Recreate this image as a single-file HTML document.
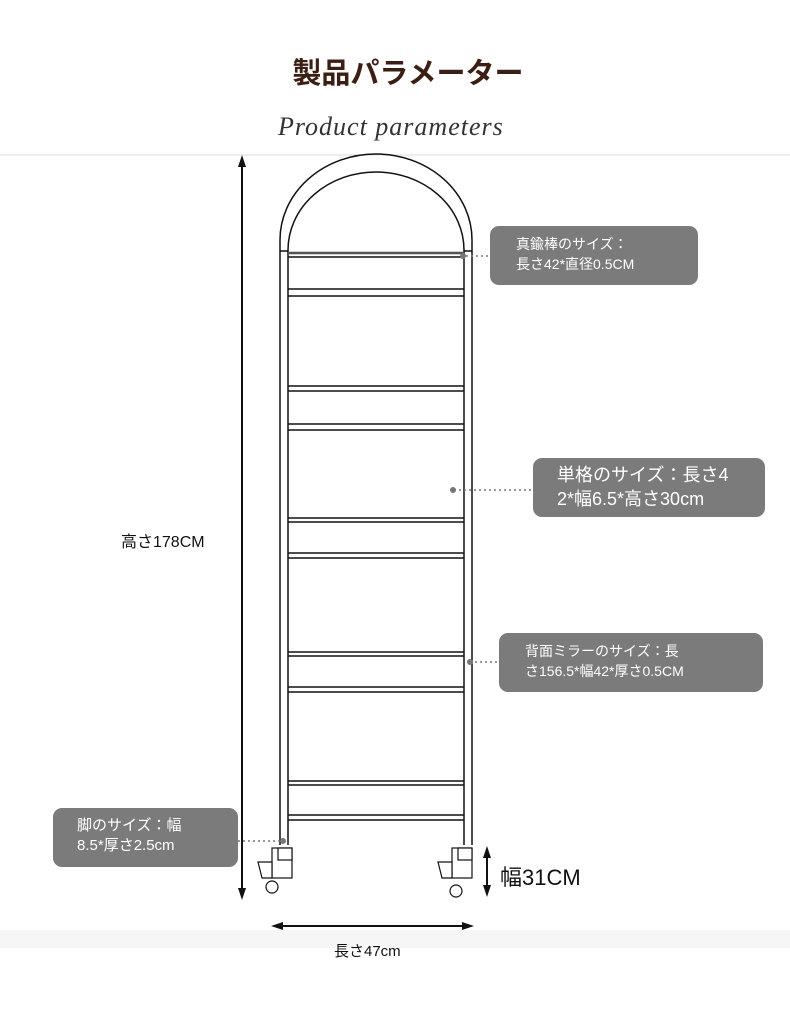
<!DOCTYPE html>
<html><head><meta charset="utf-8"><style>
html,body{margin:0;padding:0;background:#fff;}
body{width:790px;height:1028px;position:relative;overflow:hidden;font-family:"Liberation Sans","Noto Sans CJK JP",sans-serif;}
.t{position:absolute;white-space:nowrap;}
.box{position:absolute;background:#7b7b7b;border-radius:9px;color:#fff;font-size:14px;line-height:20px;padding:8px 0 0 26px;box-sizing:border-box;}
</style></head><body>
<div class="t" style="left:0;width:816px;top:50px;text-align:center;font-size:29px;font-weight:bold;color:#3b1f15;font-family:'Noto Sans CJK JP',sans-serif;">製品パラメーター</div>
<div class="t" style="left:278px;top:112px;font-family:'Liberation Serif',serif;font-style:italic;font-size:26px;color:#333;letter-spacing:1px;">Product parameters</div>
<div style="position:absolute;left:0;top:154px;width:790px;height:2px;background:#eee"></div>
<div style="position:absolute;left:0;top:930px;width:790px;height:18px;background:#f6f6f6"></div>
<svg width="790" height="1028" style="position:absolute;left:0;top:0" fill="none" stroke="#111" stroke-width="1.5">
<path d="M280,845 V240 A96,86 0 0 1 472,240 V845"/>
<path d="M288,845 V250 A88,78 0 0 1 464,250 V845"/>
<line x1="280" y1="251" x2="288" y2="251"/><line x1="464" y1="251" x2="472" y2="251"/>
<g>
<line x1="288" y1="253" x2="464" y2="253" stroke="#555" stroke-width="2.5"/><line x1="288" y1="257" x2="464" y2="257"/>
<line x1="288" y1="289" x2="464" y2="289"/><line x1="288" y1="296" x2="464" y2="296"/>
<line x1="288" y1="386" x2="464" y2="386"/><line x1="288" y1="391" x2="464" y2="391"/>
<line x1="288" y1="424" x2="464" y2="424"/><line x1="288" y1="430" x2="464" y2="430"/>
<line x1="288" y1="518" x2="464" y2="518"/><line x1="288" y1="522" x2="464" y2="522"/>
<line x1="288" y1="553" x2="464" y2="553"/><line x1="288" y1="558" x2="464" y2="558"/>
<line x1="288" y1="652" x2="464" y2="652"/><line x1="288" y1="656" x2="464" y2="656"/>
<line x1="288" y1="687" x2="464" y2="687"/><line x1="288" y1="692" x2="464" y2="692"/>
<line x1="288" y1="781" x2="464" y2="781"/><line x1="288" y1="785" x2="464" y2="785"/>
<line x1="288" y1="815" x2="464" y2="815"/><line x1="288" y1="820" x2="464" y2="820"/>
</g>
<g stroke-width="1.2">
<rect x="272" y="848" width="20" height="30" fill="#fff"/><rect x="278" y="848" width="14" height="12" fill="#fff"/>
<path d="M258,862 L272,862 L272,878 L262,878 Z" fill="#fff"/>
<circle cx="272" cy="887" r="6" fill="#fff"/>
<rect x="452" y="848" width="20" height="30" fill="#fff"/><rect x="458" y="848" width="14" height="12" fill="#fff"/>
<path d="M438,862 L452,862 L452,878 L442,878 Z" fill="#fff"/>
<circle cx="456" cy="891" r="6" fill="#fff"/>
</g>
<g stroke="#777" stroke-width="1.5" stroke-dasharray="2 3">
<line x1="466" y1="256" x2="490" y2="256"/>
<line x1="454" y1="490" x2="533" y2="490"/>
<line x1="470" y1="662" x2="499" y2="662"/>
<line x1="238" y1="841" x2="283" y2="841"/>
</g>
<g fill="#777" stroke="none"><circle cx="463" cy="256" r="3"/><circle cx="453" cy="490" r="3"/><circle cx="470" cy="662" r="3"/><circle cx="283" cy="841" r="3"/></g>
<g stroke="#111" stroke-width="2" fill="#111">
<line x1="242" y1="162" x2="242" y2="893"/>
<path d="M242,155 L238,167 L246,167 Z" stroke="none"/><path d="M242,900 L238,888 L246,888 Z" stroke="none"/>
<line x1="278" y1="926" x2="467" y2="926"/>
<path d="M271,926 L283,922 L283,930 Z" stroke="none"/><path d="M474,926 L462,922 L462,930 Z" stroke="none"/>
<line x1="487" y1="853" x2="487" y2="890"/>
<path d="M487,846 L483,858 L491,858 Z" stroke="none"/><path d="M487,897 L483,885 L491,885 Z" stroke="none"/>
</g>
</svg>
<div class="t" style="left:121px;top:528px;font-size:16px;color:#111;">高さ178CM</div>
<div class="t" style="left:334px;top:940px;font-size:15px;color:#111;">長さ47cm</div>
<div class="t" style="left:500px;top:860px;font-size:22px;color:#111;">幅31CM</div>
<div class="box" style="left:490px;top:226px;width:208px;height:59px;">真鍮棒のサイズ：<br>長さ42*直径0.5CM</div>
<div class="box" style="left:533px;top:458px;width:232px;height:59px;font-size:18px;line-height:24px;padding:5px 0 0 24px;overflow:hidden;">単格のサイズ：長さ4<br>2*幅6.5*高さ30cm</div>
<div class="box" style="left:499px;top:633px;width:264px;height:59px;">背面ミラーのサイズ：長<br>さ156.5*幅42*厚さ0.5CM</div>
<div class="box" style="left:53px;top:808px;width:185px;height:59px;font-size:15px;padding-left:24px;">脚のサイズ：幅<br>8.5*厚さ2.5cm</div>
</body></html>
